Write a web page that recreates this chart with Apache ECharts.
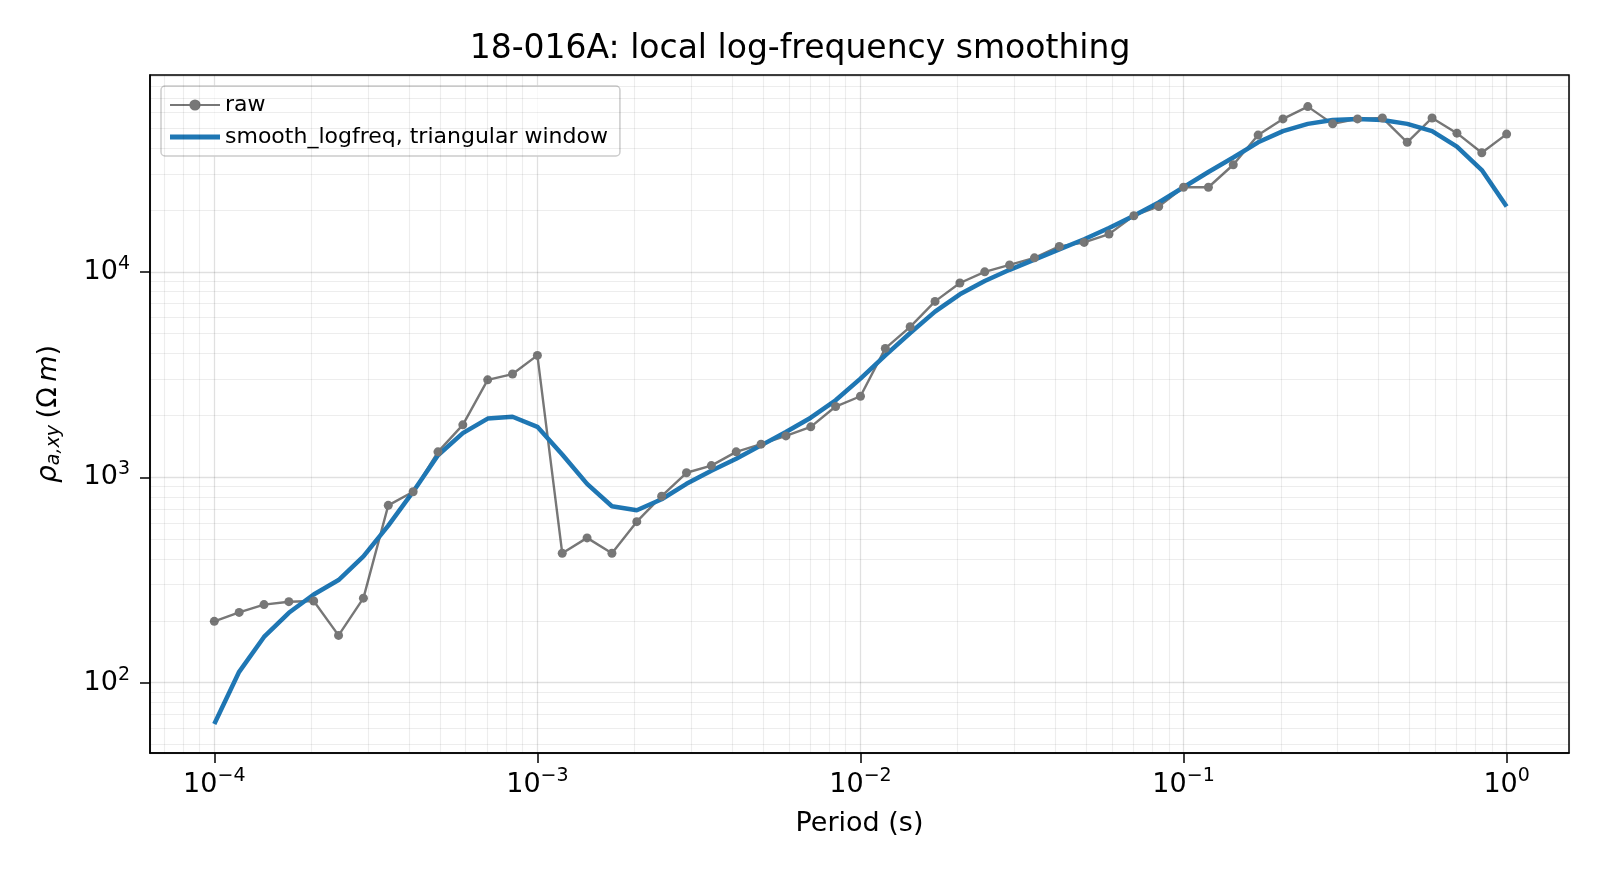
<!DOCTYPE html>
<html>
<head>
<meta charset="utf-8">
<script src="https://cdn.jsdelivr.net/npm/echarts@6/dist/echarts.min.js"></script>
<style>html,body{margin:0;padding:0;background:#fff}#c{width:1600px;height:880px}</style>
</head>
<body>
<div id="c"></div>
<script>
// periods: 13 points per decade, 1e-4 .. 1 s
var periodExp = [];
for (var i = 0; i <= 52; i++) periodExp.push(-4 + i / 13);

var rawRho = [199, 220, 240, 248, 250, 170, 258, 730, 850, 1330, 1800, 2980, 3180, 3920,
	427, 507, 427, 608, 809, 1052, 1140, 1330, 1450, 1590, 1760, 2210, 2480, 4240, 5400,
	7180, 8820, 10000, 10800, 11700, 13300, 13900, 15260, 18750, 20800, 25800, 25800,
	33200, 46300, 55500, 63700, 52500, 55500, 56100, 42700, 56100, 47300, 38000, 46800];
var smoothRho = [63, 113, 167, 219, 269, 316, 412, 582, 851, 1280, 1640, 1930, 1970, 1760,
	1290, 929, 723, 691, 782, 929, 1077, 1230, 1430, 1660, 1950, 2370, 3020, 3920, 5040,
	6400, 7770, 9020, 10230, 11470, 12860, 14400, 16340, 18740, 21740, 25800, 30600,
	36000, 42700, 48400, 52500, 54800, 55500, 54800, 52500, 48400, 40700, 31300, 20800];

var xMin = -4.199, xMax = 0.193, yMin = 1.658, yMax = 4.958;

var pair = function(vals){
	return vals.map(function(v, k){ return [periodExp[k], Math.log10(v)]; });
};

// minor log grid lines and ticks (2..9 x 10^n)
var minorLines = [];
for (var n = -5; n <= 5; n++) {
	for (var m = 2; m <= 9; m++) {
		var lv = n + Math.log10(m);
		if (lv > xMin && lv < xMax) {
			minorLines.push([{coord:[lv, yMin]}, {coord:[lv, yMax]}]);
			minorLines.push([{coord:[lv, yMin], lineStyle:{color:'#000', opacity:1, width:1.2}}, {coord:[lv, yMin - 0.026]}]);
		}
		if (lv > yMin && lv < yMax) {
			minorLines.push([{coord:[xMin, lv]}, {coord:[xMax, lv]}]);
			minorLines.push([{coord:[xMin, lv], lineStyle:{color:'#000', opacity:1, width:1.2}}, {coord:[xMin - 0.017, lv]}]);
		}
	}
}

var pow = function(v){
	if (Math.abs(v - Math.round(v)) > 1e-6) return '';
	v = Math.round(v);
	return '{b|10}{s|' + (v < 0 ? '\u2212' + (-v) : v) + '}';
};
var rich = {b:{fontSize:27, color:'#000', fontFamily:'DejaVu Sans'}, s:{fontSize:19, color:'#000', fontFamily:'DejaVu Sans', verticalAlign:'top', padding:[0,0,16,0]}};

var chart = echarts.init(document.getElementById('c'));
chart.setOption({
	animation: false,
	title: {text:'18-016A: local log-frequency smoothing', left:'center', top:28,
		textStyle:{fontFamily:'DejaVu Sans', fontWeight:'normal', fontSize:33, color:'#000'}},
	grid: {left:150, right:31, top:75, bottom:127, show:true, borderColor:'#000', borderWidth:1.5, backgroundColor:'transparent'},
	legend: {left:161, top:86, orient:'vertical', itemGap:10, itemWidth:50, itemHeight:14,
		padding:[8,12,8,8], borderColor:'#ccc', borderWidth:1.5, borderRadius:4, backgroundColor:'rgba(255,255,255,0.8)',
		textStyle:{fontFamily:'DejaVu Sans', fontSize:22, color:'#000'},
		data:[{name:'raw'}, {name:'smooth_logfreq, triangular window', icon:'path://M0,0H50V5H0Z', itemStyle:{color:'#1f77b4'}}]},
	xAxis: {type:'value', min:xMin, max:xMax, splitNumber:4,
		name:'Period (s)', nameLocation:'middle', nameGap:57,
		nameTextStyle:{fontFamily:'DejaVu Sans', fontSize:27, color:'#000'},
		axisLine:{onZero:false, lineStyle:{color:'#000', width:1.5}},
		axisTick:{length:10, lineStyle:{color:'#000', width:1.5}},
		axisLabel:{showMinLabel:false, showMaxLabel:false, margin:14, formatter:pow, rich:rich},
		splitLine:{show:true, lineStyle:{color:'#000', opacity:0.12, width:1.3}}},
	yAxis: {type:'value', min:yMin, max:yMax, splitNumber:3,
		name:'{i|\u03c1}{sub|a,xy}  {n|(\u03a9\u2009}{i2|m}{n|)}', nameLocation:'middle', nameGap:86,
		nameTextStyle:{rich:{i:{fontSize:28, fontStyle:'italic', fontFamily:'DejaVu Sans', color:'#000'},
			i2:{fontSize:27, fontStyle:'italic', fontFamily:'DejaVu Sans', color:'#000'},
			sub:{fontSize:19, fontStyle:'italic', fontFamily:'DejaVu Sans', color:'#000', verticalAlign:'bottom', padding:[12,0,0,0]},
			n:{fontSize:27, fontFamily:'DejaVu Sans', color:'#000'}}},
		axisLine:{show:true, onZero:false, lineStyle:{color:'#000', width:1.5}},
		axisTick:{show:true, length:10, lineStyle:{color:'#000', width:1.5}},
		axisLabel:{showMinLabel:false, showMaxLabel:false, margin:20, formatter:pow, rich:rich},
		splitLine:{show:true, lineStyle:{color:'#000', opacity:0.12, width:1.3}}},
	series: [
		{type:'line', name:'grid', data:[], silent:true, clip:false,
			markLine:{silent:true, symbol:'none', label:{show:false}, animation:false,
				lineStyle:{type:'solid', color:'#000', opacity:0.07, width:1.2}, data:minorLines}},
		{type:'line', name:'raw', data:pair(rawRho), symbol:'circle', symbolSize:9,
			itemStyle:{color:'#777777'}, lineStyle:{color:'#777777', width:2.4}},
		{type:'line', name:'smooth_logfreq, triangular window', data:pair(smoothRho), symbol:'none',
			itemStyle:{color:'#1f77b4'}, lineStyle:{color:'#1f77b4', width:4.5}}
	]
});
</script>
</body>
</html>
